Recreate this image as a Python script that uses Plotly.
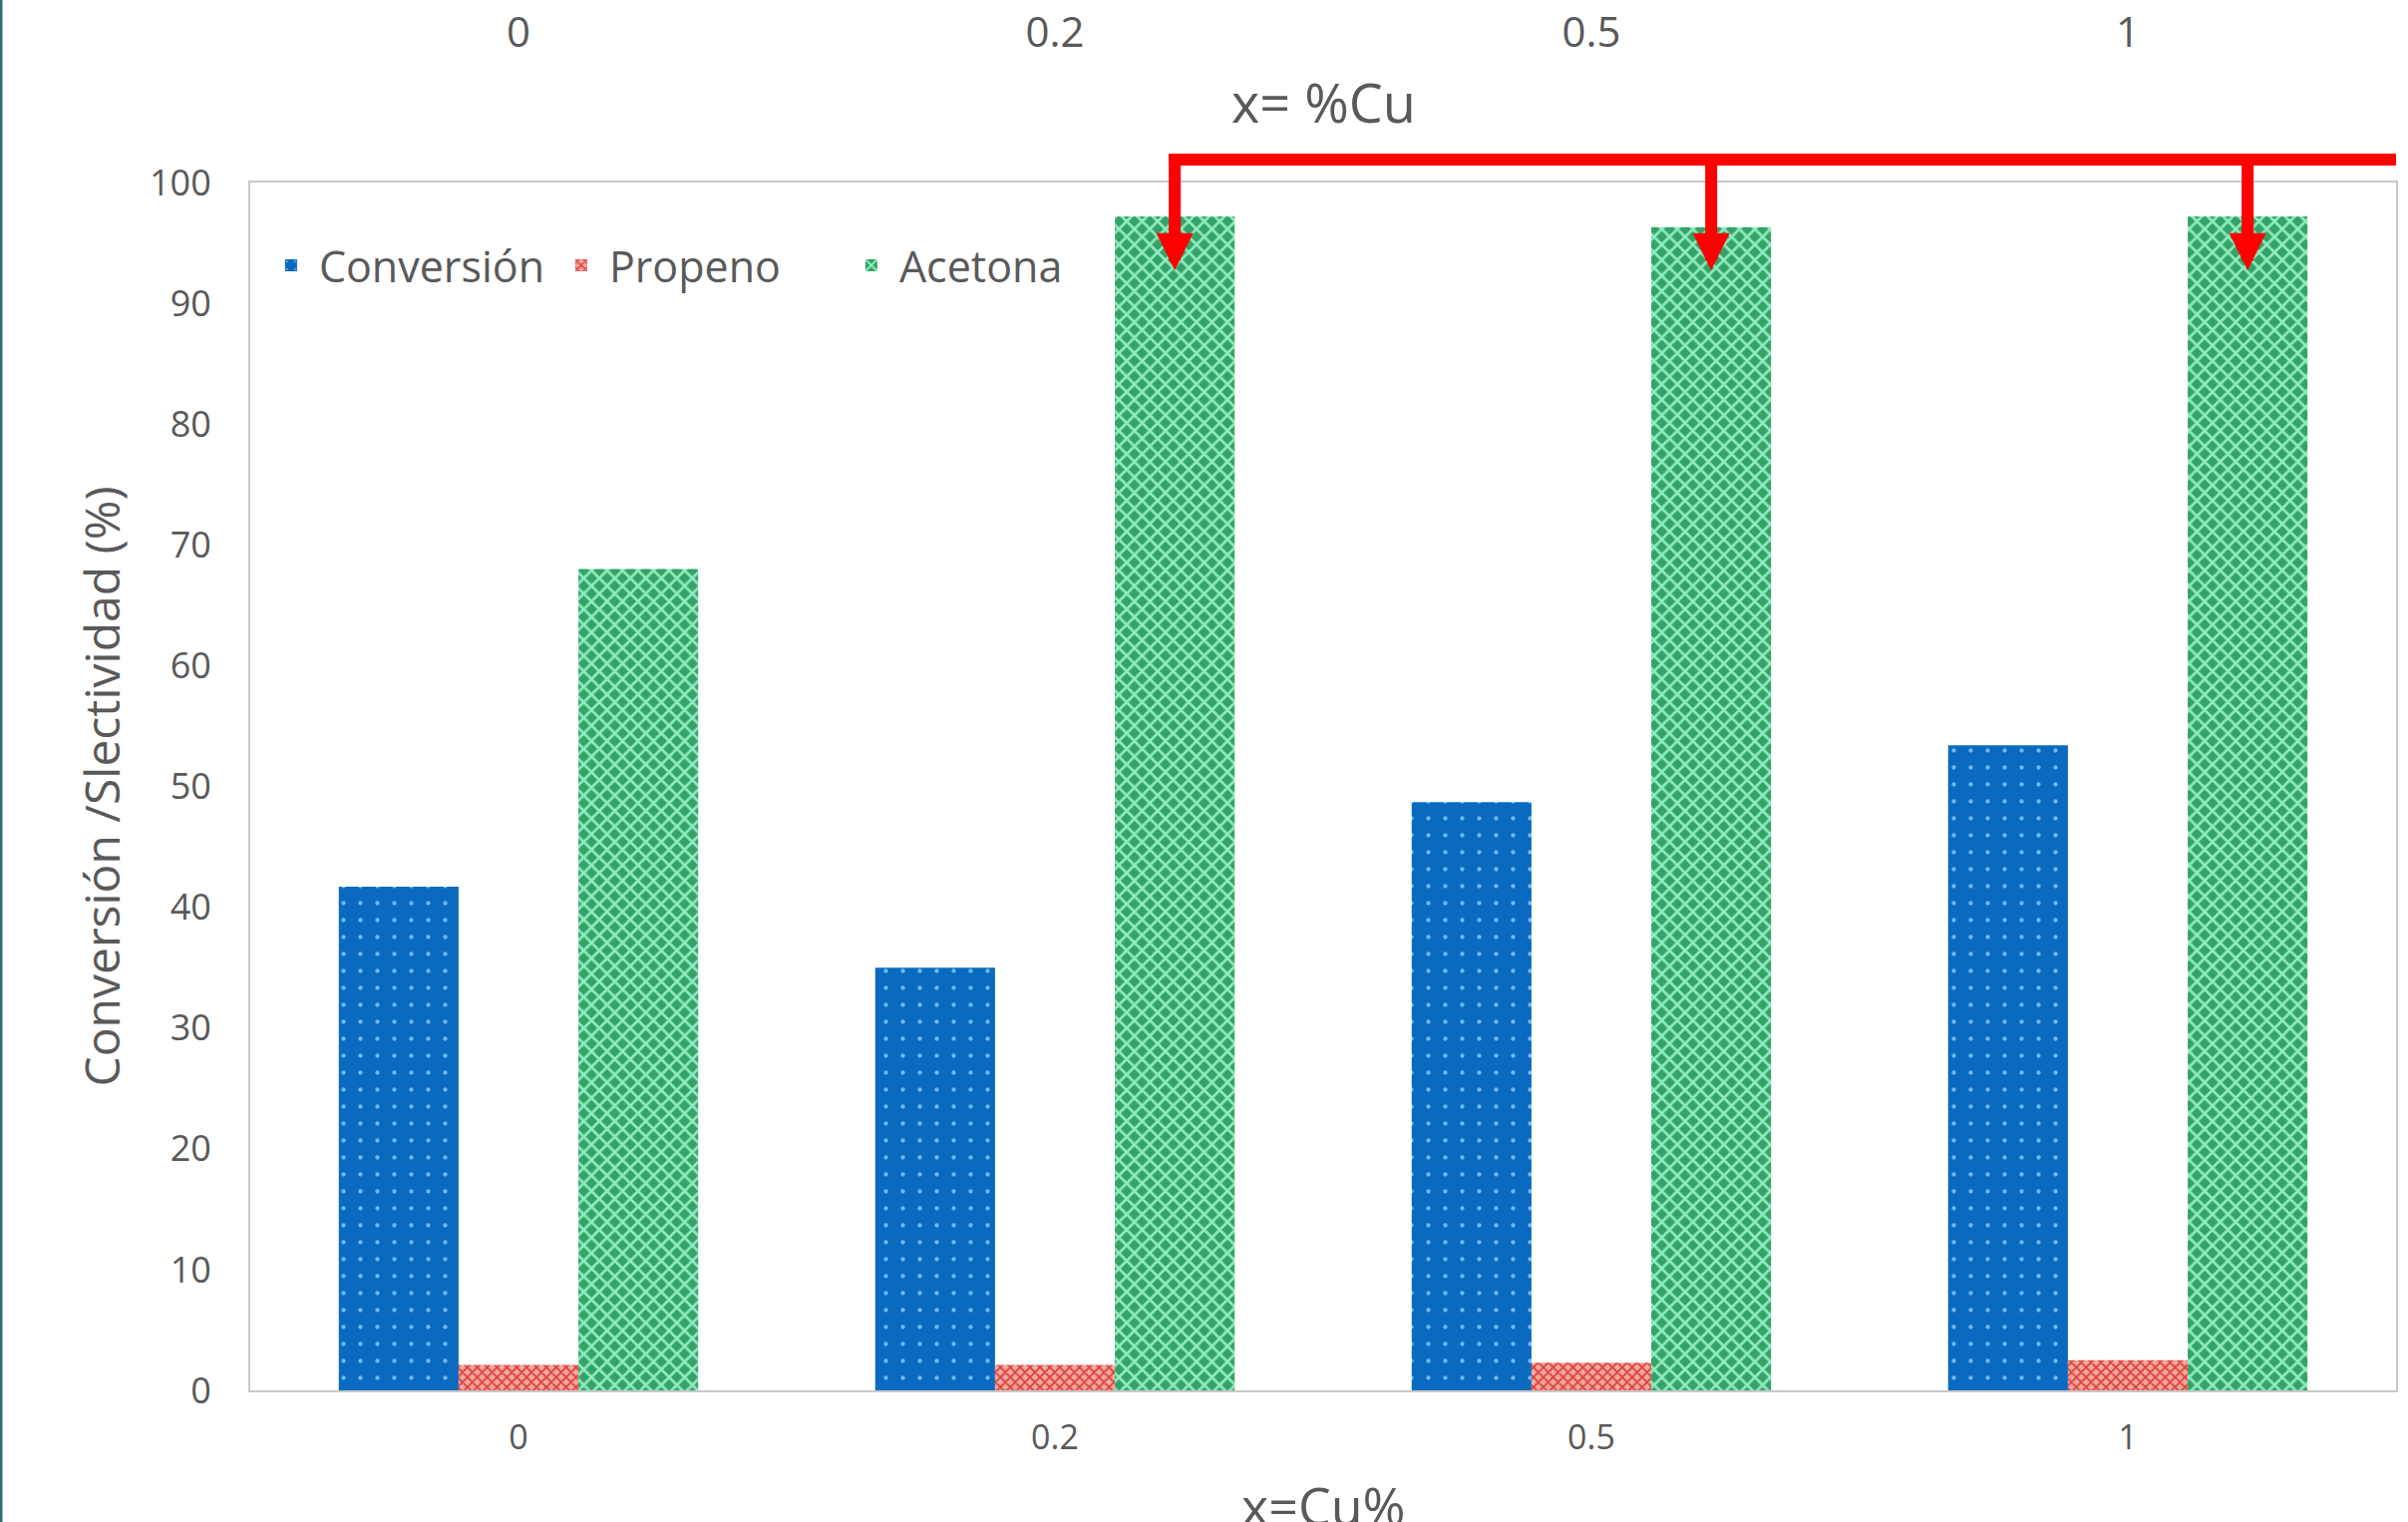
import plotly.graph_objects as go

categories = ["0", "0.2", "0.5", "1"]
conversion = [41.7, 35.0, 48.7, 53.4]
propeno = [2.1, 2.1, 2.3, 2.5]
acetona = [68.0, 97.2, 96.3, 97.2]
series_names = ["Conversión", "Propeno", "Acetona"]

W, H = 2415, 1526
ML, MR, MT, MB = 251, 12, 183, 132
PW, PH = W - ML - MR, H - MT - MB
BARGAP = 0.33
TXT = "#595959"
FONT = "Open Sans"

def px_x(p):
    return (p - ML) / PW

def px_y(p):
    return (H - MB - p) / PH

fig = go.Figure()
fig.add_trace(go.Bar(
    name=series_names[0], x=categories, y=conversion,
    marker=dict(color="#0A6AC0", line=dict(width=0),
                pattern=dict(shape=".", fgcolor="#6FB8F5", bgcolor="#0A6AC0",
                             size=17, solidity=0.05, fillmode="replace")),
))
fig.add_trace(go.Bar(
    name=series_names[1], x=categories, y=propeno,
    marker=dict(color="#E8635C", line=dict(width=0),
                pattern=dict(shape="x", fgcolor="#D9413B", bgcolor="#F6A79E",
                             size=7, solidity=0.45, fillmode="replace")),
))
fig.add_trace(go.Bar(
    name=series_names[2], x=categories, y=acetona,
    marker=dict(color="#3AA86E", line=dict(width=0),
                pattern=dict(shape="x", fgcolor="#90ECBF", bgcolor="#35A268",
                             size=11, solidity=0.42, fillmode="replace")),
))
# invisible trace to carry the top axis
fig.add_trace(go.Bar(x=categories, y=[None] * len(categories), xaxis="x2",
                     showlegend=False, hoverinfo="skip"))

fig.update_layout(
    width=W, height=H,
    margin=dict(l=ML, r=MR, t=MT, b=MB, autoexpand=False),
    paper_bgcolor="white", plot_bgcolor="white",
    barmode="group", bargap=BARGAP, bargroupgap=0,
    font=dict(family=FONT, color=TXT),
    showlegend=True,
    legend=dict(orientation="h", x=0.006, y=px_y(266), xanchor="left", yanchor="middle",
                font=dict(family=FONT, size=43, color=TXT), bgcolor="rgba(0,0,0,0)",
                itemwidth=46, traceorder="normal",
                entrywidth=230, entrywidthmode="pixels"),
    xaxis=dict(type="category", range=[-0.5, len(categories) - 0.5], automargin=False,
               showgrid=False, zeroline=False, showline=True, linecolor="#C8C8C8",
               linewidth=2, mirror=True, ticks="",
               tickfont=dict(family=FONT, size=34, color=TXT),
               ticklabelstandoff=16),
    xaxis2=dict(type="category", overlaying="x", side="top", matches="x",
                automargin=False,
                showgrid=False, zeroline=False, showline=False, ticks="",
                tickfont=dict(family=FONT, size=42, color=TXT),
                ticklabelstandoff=127),
    yaxis=dict(range=[0, 100], dtick=10, showgrid=False, zeroline=False, automargin=False,
               showline=True, linecolor="#C8C8C8", linewidth=2, mirror=True,
               ticks="", tickfont=dict(family=FONT, size=36, color=TXT),
               ticklabelstandoff=30),
)

# axis titles
fig.add_annotation(text="x= %Cu", xref="paper", yref="paper", x=0.5, y=px_y(102),
                   showarrow=False, font=dict(family=FONT, size=54, color=TXT),
                   xanchor="center", yanchor="middle")
fig.add_annotation(text="x=Cu%", xref="paper", yref="paper", x=0.5, y=px_y(1508),
                   showarrow=False, font=dict(family=FONT, size=52, color=TXT),
                   xanchor="center", yanchor="middle")
fig.add_annotation(text="Conversión /Slectividad (%)", xref="paper", yref="paper",
                   x=px_x(101), y=0.5, textangle=-90, showarrow=False,
                   font=dict(family=FONT, size=48, color=TXT),
                   xanchor="center", yanchor="middle")

# red arrows pointing at Acetona bars (categories 1..3)
bar_w = (1 - BARGAP) / 3
top_y = px_y(160)
tip_y = px_y(271)
x_right = -0.5 + len(categories) * px_x(W + 20)
fig.add_shape(type="line", xref="x", yref="paper", x0=1 + bar_w - 0.011, x1=x_right,
              y0=top_y, y1=top_y, line=dict(color="#FF0000", width=12))
for i in range(1, len(categories)):
    fig.add_annotation(x=i + bar_w, y=tip_y, xref="x", yref="paper",
                       ax=0, ay=-(271 - 154), showarrow=True, arrowhead=2,
                       arrowwidth=12, arrowsize=0.62, arrowcolor="#FF0000", text="")

# thin teal frame at left edge
fig.add_shape(type="line", xref="paper", yref="paper", x0=px_x(1), x1=px_x(1),
              y0=px_y(0), y1=px_y(H), line=dict(color="#2F6E70", width=3))

fig.write_html("out.html")
